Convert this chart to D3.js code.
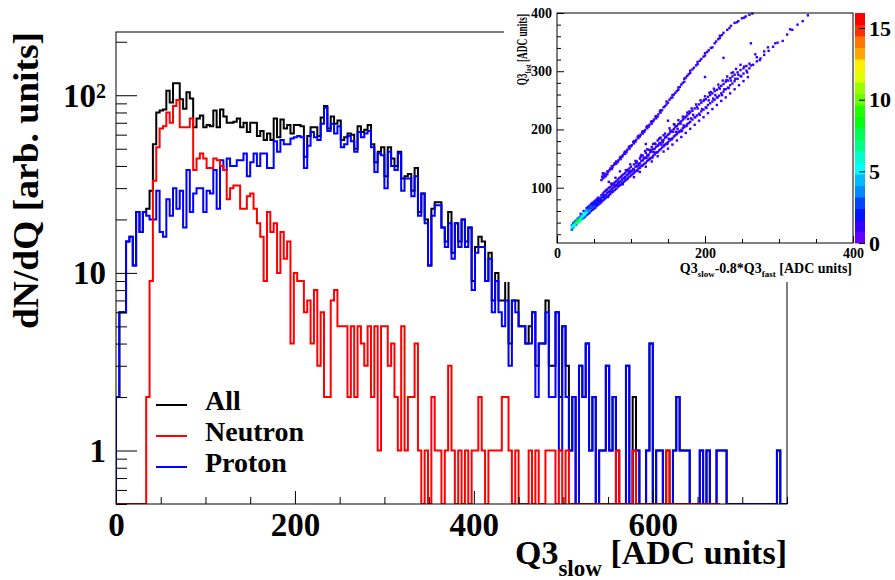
<!DOCTYPE html>
<html>
<head>
<meta charset="utf-8">
<script src="https://cdn.jsdelivr.net/npm/d3@7"></script>
<style>
body { margin: 0; background: #fff; }
svg text { font-family: "Liberation Serif", "Times New Roman", serif; font-weight: bold; fill: #000; }
</style>
</head>
<body>
<svg id="chart" width="895" height="580"></svg>
<script>
// ---- main histogram: bins of 3.75 ADC units, 0..750 ----
var binWidth = 3.75;

var protonCounts = [
  2, 6, 6, 15, 16, 11, 22, 17, 22, 21,
  20, 20, 29, 17, 16, 26, 21, 30, 23, 29,
  18, 38, 22, 28, 30, 30, 22, 29, 28, 38,
  23, 43, 38, 44, 40, 40, 43, 43, 47, 35,
  42, 47, 40, 47, 47, 39, 39, 55, 48, 56,
  53, 53, 57, 58, 59, 58, 39, 52, 62, 58,
  56, 69, 85, 63, 69, 61, 67, 51, 53, 59,
  55, 48, 62, 58, 61, 63, 51, 37, 47, 46,
  30, 48, 40, 38, 47, 29, 34, 34, 27, 35,
  21, 28, 19, 11, 21, 24, 24, 18, 14, 19,
  12, 19, 14, 20, 14, 18, 8, 13, 14, 14,
  9, 12, 6, 9, 6, 5, 7, 3, 7, 6,
  5, 5, 4, 4, 6, 2, 4, 4, 6, 2,
  2, 6, 1, 5, 2, 1, 2, 0, 3, 2,
  4, 1, 2, 0, 1, 1, 3, 1, 2, 0,
  0, 0, 3, 0, 1, 1, 0, 0, 1, 4,
  0, 1, 1, 0, 0, 0, 1, 2, 1, 1,
  1, 0, 0, 0, 1, 0, 1, 0, 0, 1,
  1, 1, 0, 0, 0, 0, 0, 0, 0, 0,
  0, 0, 0, 0, 0, 0, 0, 1, 0, 0
];

var neutronCounts = [
  0, 0, 0, 0, 0, 0, 0, 0, 0, 2,
  9, 33, 51, 65, 67, 80, 70, 87, 94, 66,
  66, 66, 74, 38, 44, 47, 44, 39, 39, 44,
  43, 40, 38, 26, 30, 31, 31, 23, 23, 27,
  28, 23, 19, 16, 9, 22, 17, 19, 10, 17,
  12, 15, 4, 10, 9, 9, 6, 7, 4, 8,
  3, 6, 2, 2, 7, 8, 5, 5, 5, 2,
  5, 2, 5, 4, 3, 5, 2, 5, 1, 5,
  5, 3, 4, 2, 1, 5, 1, 2, 2, 4,
  1, 0, 1, 0, 2, 1, 1, 0, 1, 3,
  1, 0, 1, 0, 1, 0, 1, 1, 2, 1,
  0, 1, 1, 1, 1, 2, 2, 1, 0, 1,
  0, 0, 0, 1, 0, 1, 0, 0, 1, 1,
  1, 0, 1, 0, 1, 0, 0, 0, 0, 0,
  0, 0, 0, 0, 0, 0, 0, 0, 0, 1,
  0, 0, 0, 0, 1, 0, 0, 0, 0, 0,
  0, 0, 0, 0, 1, 0, 0, 0, 0, 0,
  0, 0, 0, 0, 0, 0, 0, 0, 0, 0
];

var allCounts = [
  2, 6, 6, 15, 16, 11, 22, 17, 22, 23,
  29, 53, 80, 82, 83, 106, 91, 117, 117, 95,
  84, 104, 96, 66, 74, 77, 66, 68, 67, 82,
  66, 83, 76, 70, 70, 71, 74, 66, 70, 62,
  70, 70, 59, 63, 56, 61, 56, 74, 58, 73,
  65, 68, 61, 68, 68, 67, 45, 59, 66, 66,
  59, 75, 87, 65, 76, 69, 72, 56, 58, 61,
  60, 50, 67, 62, 64, 68, 53, 42, 48, 51,
  35, 51, 44, 40, 48, 34, 35, 36, 29, 39,
  22, 28, 20, 11, 23, 25, 25, 18, 15, 22,
  13, 19, 15, 20, 15, 18, 9, 14, 16, 15,
  9, 13, 7, 10, 7, 7, 9, 4, 7, 7,
  5, 5, 4, 5, 6, 3, 4, 4, 7, 3,
  3, 6, 2, 5, 3, 1, 2, 0, 3, 2,
  4, 1, 2, 0, 1, 1, 3, 1, 2, 1,
  0, 0, 3, 0, 2, 1, 0, 0, 1, 4,
  0, 1, 1, 0, 1, 0, 1, 2, 1, 1,
  1, 0, 0, 0, 1, 0, 1, 0, 0, 1,
  1, 1, 0, 0, 0, 0, 0, 0, 0, 0,
  0, 0, 0, 0, 0, 0, 0, 1, 0, 0
];

var seriesNames = ["All", "Neutron", "Proton"];
var seriesColors = ["#000000", "#ff0000", "#0000ff"];
var xTickValues = [0, 200, 400, 600];
var yTickValues = [1, 10, 100];

// ---- inset: 2D histogram cells [x, y, entries] ----
var coreCells = [
  [20,28,3],[20,32,5],[20,36,4],[22,31,4],[22,35,6],[22,39,3],
  [24,34,5],[24,38,7],[24,42,3],[26,36,4],[26,40,9],[26,44,4],
  [28,39,5],[28,43,8],[28,47,3],[30,41,6],[30,45,9],[30,49,4],
  [32,43,5],[32,47,7],[32,51,4],[32,55,1],[34,46,4],[34,50,6],[34,54,4],
  [36,48,3],[36,52,6],[36,56,5],[36,60,1],[38,50,3],[38,54,5],[38,58,4],
  [40,53,2],[40,57,5],[40,61,4],[40,65,1],[42,55,2],[42,59,4],[42,63,3],[42,67,1],
  [44,57,1],[44,61,4],[44,65,3],[44,69,1],[46,60,2],[46,64,3],[46,68,3],[46,72,1],
  [48,62,1],[48,66,3],[48,70,2],[48,74,1],[50,64,2],[50,68,3],[50,72,2],[50,76,1],
  [52,66,1],[52,70,2],[52,74,2],[52,78,1],[54,69,1],[54,73,2],[54,77,2],[54,81,1],
  [56,71,1],[56,75,2],[56,79,1],[56,83,1],[58,73,1],[58,77,2],[58,81,1],
  [60,75,1],[60,79,2],[60,83,1],[60,87,1]
];

var lowerBandCells = [
  [62,78,1],[62,84,2],[62,90,1],[64,80,2],[64,86,1],[64,93,1],[66,83,1],[66,88,2],[66,95,1],
  [68,85,1],[68,91,1],[68,97,1],[70,87,2],[70,93,1],[70,100,1],[72,89,1],[72,95,2],[72,101,1],
  [74,92,1],[74,98,1],[74,104,1],[76,94,2],[76,100,1],[76,107,1],[78,96,1],[78,102,1],[78,109,1],
  [80,98,1],[80,104,2],[80,111,1],[82,101,1],[82,107,1],[82,114,1],[84,103,1],[84,109,2],[84,116,1],
  [86,105,1],[86,111,1],[86,118,1],[88,108,2],[88,114,1],[88,121,1],[90,110,1],[90,116,1],[90,123,1],
  [92,112,1],[92,118,2],[92,125,1],[94,114,1],[94,121,1],[94,128,1],[96,117,1],[96,123,1],[96,131,1],
  [98,119,1],[98,125,2],[98,133,1],[100,121,1],[100,128,1],[100,136,1],[102,123,1],[102,130,1],
  [104,125,1],[104,132,1],[104,140,1],[106,128,1],[106,136,1],[108,130,1],[108,137,1],[108,145,1],
  [110,133,1],[110,141,1],[112,134,1],[112,142,1],[112,150,1],[114,137,1],[114,146,1],
  [116,139,1],[116,147,1],[116,155,1],[118,141,1],[118,151,1],[120,143,1],[120,152,1],[120,160,1],
  [122,146,1],[122,156,1],[124,148,1],[124,157,1],[124,165,1],[126,150,1],[126,161,1],
  [128,152,1],[128,162,1],[128,170,1],[130,155,1],[130,166,1],[132,157,1],[132,167,1],[132,176,1],
  [134,160,1],[134,170,1],[136,161,1],[136,172,1],[136,181,1],[138,164,1],[138,176,1],
  [140,166,1],[140,177,1],[140,186,1],[142,169,1],[142,181,1],[144,171,1],[144,182,1],[144,190,1],
  [146,174,1],[146,186,1],[148,176,1],[148,188,1],[150,178,1],[150,191,1],[152,181,1],[152,193,1],
  [154,183,1],[154,196,1],[156,185,1],[156,198,1],[158,188,1],[158,201,1],[160,190,1],[160,204,1],
  [162,192,1],[162,206,1],[164,195,1],[164,209,1],[166,197,1],[166,212,1],[168,199,1],[168,214,1],
  [170,202,1],[170,217,1],[172,204,1],[172,219,1],[174,206,1],[174,222,1],[176,209,1],[176,224,1],
  [178,211,1],[178,227,1],[180,213,1],[180,229,1],[183,217,1],[183,232,1],[186,221,1],[186,236,1],
  [189,224,1],[189,239,1],[192,227,1],[192,243,1],[195,231,1],[195,246,1],[198,234,1],[198,249,1],
  [201,238,1],[201,252,1],[204,242,1],[204,256,1],[207,245,1],[207,259,1],[210,248,1],[210,262,1],
  [213,251,1],[213,266,1],[216,255,1],[216,268,1],[219,258,1],[219,272,1],[222,262,1],[222,275,1],
  [225,265,1],[225,278,1],[228,269,1],[228,282,1],[231,272,1],[231,284,1],[234,276,1],[234,288,1],
  [237,279,1],[237,291,1],[240,283,1],[240,294,1],[244,287,1],[244,298,1],[248,292,1],[248,302,1],
  [252,296,1],[252,305,1],[256,301,1],[256,309,1],[260,305,1],[260,313,1],[265,311,1],
  [270,317,1],[270,324,1],[275,322,1],[280,328,1],[280,334,1],[286,335,1],[292,342,1],
  [298,349,1],[305,352,1],[311,363,1],[318,371,1],[325,380,1],[332,386,1],[339,396,1],
  [63,87,1],[65,82,1],[67,96,1],[69,84,1],[71,93,1],[73,107,1],[75,93,1],[77,105,1],[79,117,1],
  [81,105,1],[83,110,1],[85,105,1],[87,119,1],[89,106,1],[91,116,1],[93,130,1],[95,115,1],
  [97,128,1],[99,140,1],[101,128,1],[103,132,1],[105,128,1],[107,142,1],[109,129,1],[111,138,1],
  [113,153,1],[115,138,1],[117,150,1],[119,163,1],[121,151,1],[123,155,1],[125,150,1],[127,165,1],
  [129,152,1],[131,161,1],[133,175,1],[135,161,1],[137,173,1],[139,185,1],[141,174,1],[143,178,1],
  [145,173,1],[147,187,1],[149,175,1],[151,184,1],[153,198,1],[155,183,1],[157,196,1],[159,208,1],
  [161,196,1],[163,201,1],[165,196,1],[167,210,1],[169,197,1],[171,207,1],[173,221,1],[175,206,1],
  [177,218,1],[179,231,1],[181,219,1],[184,225,1],[187,221,1],[190,236,1],[193,225,1],[196,235,1],
  [199,251,1],[202,237,1],[205,250,1],[208,264,1],[211,253,1],[214,259,1],[217,255,1],[220,270,1],
  [223,259,1],[226,269,1],[229,285,1],[232,271,1],[235,284,1],[238,298,1],[241,287,1],[245,294,1],
  [249,291,1],[253,308,1],[257,298,1],[262,310,1],[268,329,1],[274,319,1],[285,341,1],[295,348,1],
  [315,372,1],
  [104,118,1],[106,146,1],[112,127,1],[114,156,1],[120,136,1],[122,166,1],[128,145,1],[130,175,1],
  [136,154,1],[138,184,1],[144,162,1],[146,193,1],[150,167,1],[152,202,1],[156,174,1],[158,209,1],
  [162,181,1],[164,216,1],[168,187,1],[170,222,1],[174,194,1],[176,229,1],[180,201,1],[182,236,1],
  [186,208,1],[188,243,1],[192,215,1],[194,250,1],[198,221,1],[200,257,1],[204,228,1],[206,263,1],
  [210,235,1],[212,270,1],[216,242,1],[218,277,1],[222,249,1],[224,284,1],[228,255,1],[230,291,1],
  [234,262,1],[236,297,1],[240,269,1],[242,304,1],[246,276,1],[248,311,1],[252,283,1],[258,290,1]
];

var upperBandCells = [
  [60,113,1],[61,119,1],[62,116,1],[63,122,1],[64,118,1],[65,124,1],[68,123,1],[68,128,1],
  [71,130,1],[74,132,1],[74,137,1],[77,139,1],[80,141,1],[80,145,1],[83,147,1],[86,149,1],
  [86,153,1],[89,156,1],[92,158,1],[92,162,1],[95,165,1],[98,167,1],[98,171,1],[101,173,1],
  [104,176,1],[104,180,1],[107,182,1],[110,185,1],[110,189,1],[113,191,1],[116,193,1],
  [116,197,1],[119,199,1],[122,202,1],[122,206,1],[125,208,1],[128,210,1],[128,214,1],
  [131,217,1],[134,219,1],[134,223,1],[137,226,1],[140,229,1],[140,233,1],[144,238,1],
  [148,243,1],[148,248,1],[152,251,1],[156,255,1],[156,259,1],[160,263,1],[164,268,1],
  [164,272,1],[168,277,1],[172,282,1],[172,287,1],[176,292,1],[180,297,1],[180,301,1],
  [185,306,1],[190,312,1],[190,316,1],[195,321,1],[200,327,1],[200,331,1],[205,336,1],
  [210,341,1],[215,351,1],[220,357,1],[220,361,1],[225,366,1],[230,371,1],[235,378,1],
  [240,383,1],[245,386,1],[250,391,1],[255,394,1],[260,397,1],[264,399,1],
  [70,110,1],[85,128,1],[120,175,1],[150,215,1],[200,290,1],[225,323,1],[262,348,1],
  [62,125,1],[66,120,1],[69,127,1],[72,133,1],[75,135,1],[78,142,1],[82,144,1],[85,151,1],
  [88,153,1],[91,160,1],[94,161,1],[97,169,1],[100,171,1],[103,178,1],[106,179,1],[109,187,1],
  [112,188,1],[115,195,1],[118,196,1],[121,204,1],[124,205,1],[127,213,1],[130,214,1],[133,222,1],
  [136,222,1],[139,231,1],[142,233,1],[146,240,1],[150,246,1],[154,254,1],[158,260,1],[162,266,1],
  [166,273,1],[170,280,1],[174,289,1],[178,295,1],[183,303,1],[188,310,1],[193,318,1],[198,325,1],
  [203,333,1],[208,340,1],[213,348,1],[218,355,1],[223,362,1],[233,374,1],[243,384,1],[253,392,1]
];

var insetXTicks = [0, 200, 400];
var insetYTicks = [100, 200, 300, 400];
var paletteTicks = [0, 5, 10, 15];

// ---------------------------------------------------------------
var svg = d3.select("#chart");

var x = d3.scaleLinear().domain([0, 750]).range([116, 787]);
var yMin = 0.5, yMax = 227;
var y = d3.scaleLog().domain([yMin, yMax]).range([504, 32]);

svg.append("defs").append("clipPath").attr("id", "frameClip")
  .append("rect")
    .attr("x", x(0)).attr("y", y(yMax))
    .attr("width", x(750) - x(0)).attr("height", y(yMin) - y(yMax));

function stepPoints(counts) {
  var pts = [[0, yMin]];
  counts.forEach(function(c, i) {
    var v = c > 0 ? c : yMin;
    pts.push([i * binWidth, v]);
    pts.push([(i + 1) * binWidth, v]);
  });
  pts.push([counts.length * binWidth, yMin]);
  return pts;
}

var line = d3.line()
  .x(function(d) { return x(d[0]); })
  .y(function(d) { return y(d[1]); });

// all first, then proton, neutron on top
var plot = svg.append("g").attr("clip-path", "url(#frameClip)");
[[allCounts, 0], [protonCounts, 2], [neutronCounts, 1]].forEach(function(s) {
  plot.append("path")
    .datum(stepPoints(s[0]))
    .attr("d", line)
    .attr("fill", "none")
    .attr("stroke", seriesColors[s[1]])
    .attr("stroke-width", 2);
});

// frame
svg.append("rect")
  .attr("x", x(0)).attr("y", y(yMax))
  .attr("width", x(750) - x(0)).attr("height", y(yMin) - y(yMax))
  .attr("fill", "none").attr("stroke", "#000").attr("stroke-width", 1);

// y axis (log), ticks pointing inward
var yMinor = [];
[0.1, 1, 10, 100].forEach(function(dec) {
  for (var m = 2; m <= 9; m++) {
    var v = dec * m;
    if (v >= yMin && v <= yMax) yMinor.push(v);
  }
});

var yAxis = svg.append("g")
  .attr("transform", "translate(" + x(0) + ",0)")
  .call(d3.axisLeft(y).tickValues(yTickValues).tickSize(-21).tickPadding(10)
    .tickFormat(function(d) { return d === 100 ? "10" : String(d); }));
svg.append("g")
  .attr("transform", "translate(" + x(0) + ",0)")
  .call(d3.axisLeft(y).tickValues(yMinor).tickSize(-11).tickFormat(""))
  .call(function(g) { g.select(".domain").remove(); });
yAxis.select(".domain").remove();
yAxis.selectAll("text")
  .style("font-size", "33px")
  .attr("dy", "0.33em");
yAxis.selectAll(".tick").filter(function(d) { return d === 100; })
  .select("text")
  .append("tspan").attr("dy", "-0.45em").style("font-size", "20px").text("2");

// x axis
var xMinor = d3.range(0, 751, 50).filter(function(v) { return v % 200 !== 0; });
var xAxis = svg.append("g")
  .attr("transform", "translate(0," + y(yMin) + ")")
  .call(d3.axisBottom(x).tickValues(xTickValues).tickSize(-13).tickPadding(9).tickFormat(d3.format("d")));
xAxis.select(".domain").remove();
xAxis.selectAll("text").style("font-size", "33px");
svg.append("g")
  .attr("transform", "translate(0," + y(yMin) + ")")
  .call(d3.axisBottom(x).tickValues(xMinor).tickSize(-7).tickFormat(""))
  .call(function(g) { g.select(".domain").remove(); });
svg.selectAll(".tick line").attr("stroke", "#000");

// axis titles
var xTitle = svg.append("text")
  .attr("x", x(750)).attr("y", 564)
  .attr("text-anchor", "end")
  .style("font-size", "34px");
xTitle.append("tspan").text("Q3");
xTitle.append("tspan").attr("dy", 12).style("font-size", "23px").text("slow");
xTitle.append("tspan").attr("dy", -12).text(" [ADC units]");

svg.append("text")
  .attr("transform", "translate(38," + y(yMax) + ") rotate(-90)")
  .attr("text-anchor", "end")
  .attr("textLength", 297)
  .attr("lengthAdjust", "spacingAndGlyphs")
  .style("font-size", "35px")
  .text("dN/dQ [arb. units]");

// legend
var legend = svg.append("g");
seriesNames.forEach(function(name, k) {
  var base = 410 + k * 31;
  legend.append("line")
    .attr("x1", 156).attr("x2", 187)
    .attr("y1", base - 5).attr("y2", base - 5)
    .attr("stroke", seriesColors[k]).attr("stroke-width", 2);
  legend.append("text")
    .attr("x", 205).attr("y", base)
    .style("font-size", "28px")
    .text(name);
});

// ---------------------------------------------------------------
// inset pad
var inset = svg.append("g");
inset.append("rect")
  .attr("x", 504).attr("y", 0).attr("width", 391).attr("height", 282)
  .attr("fill", "#fff");

var ix = d3.scaleLinear().domain([0, 400]).range([557, 853]);
var iy = d3.scaleLinear().domain([5, 400]).range([243, 13]);
var zMax = 16.05, nLevels = 20, nPretty = 50;
// ROOT "pretty" palette: 50 hues from violet to red, sampled by contour level
var levelColor = function(lev) {
  var idx = Math.floor((lev + 0.99) * nPretty / nLevels);
  return d3.hsl(280 - (idx + 1) * 280 / nPretty, 1, 0.5).formatHex();
};
var cellColor = function(n) {
  return levelColor(Math.min(nLevels - 1, Math.floor(n / zMax * nLevels)));
};

var cells = coreCells.concat(lowerBandCells, upperBandCells);
cells.sort(function(a, b) { return a[2] - b[2]; });
inset.selectAll("rect.cell")
  .data(cells)
  .enter().append("rect")
    .attr("class", "cell")
    .attr("x", function(d) { return ix(d[0]) - 1.2; })
    .attr("y", function(d) { return iy(d[1]) - 1.2; })
    .attr("width", 2.4).attr("height", 2.4)
    .attr("fill", function(d) { return cellColor(d[2]); });

inset.append("rect")
  .attr("x", 557).attr("y", 13).attr("width", 853 - 557).attr("height", 243 - 13)
  .attr("fill", "none").attr("stroke", "#000").attr("stroke-width", 1);

var ixAxis = inset.append("g").attr("transform", "translate(0,243)")
  .call(d3.axisBottom(ix).tickValues(insetXTicks).tickSize(-7).tickPadding(5));
ixAxis.select(".domain").remove();
ixAxis.selectAll("text").style("font-size", "14px");
inset.append("g").attr("transform", "translate(0,243)")
  .call(d3.axisBottom(ix).tickValues([50, 100, 150, 250, 300, 350]).tickSize(-4).tickFormat(""))
  .call(function(g) { g.select(".domain").remove(); });

var iyAxis = inset.append("g").attr("transform", "translate(557,0)")
  .call(d3.axisLeft(iy).tickValues(insetYTicks).tickSize(-7).tickPadding(5));
iyAxis.select(".domain").remove();
iyAxis.selectAll("text").style("font-size", "14px");
inset.append("g").attr("transform", "translate(557,0)")
  .call(d3.axisLeft(iy).tickValues(d3.range(20, 400, 20).filter(function(v) { return v % 100 !== 0; }))
    .tickSize(-4).tickFormat(""))
  .call(function(g) { g.select(".domain").remove(); });

var ixTitle = inset.append("text")
  .attr("x", 852).attr("y", 273).attr("text-anchor", "end")
  .style("font-size", "14px");
ixTitle.append("tspan").text("Q3");
ixTitle.append("tspan").attr("dy", 4).style("font-size", "9px").text("slow");
ixTitle.append("tspan").attr("dy", -4).text("-0.8*Q3");
ixTitle.append("tspan").attr("dy", 4).style("font-size", "9px").text("fast");
ixTitle.append("tspan").attr("dy", -4).text(" [ADC units]");

// y title of the inset is squeezed along its length in the original
var iyTitle = inset.append("text")
  .attr("transform", "translate(527,14) rotate(-90) scale(0.66,1)")
  .attr("text-anchor", "end")
  .style("font-size", "14px");
iyTitle.append("tspan").text("Q3");
iyTitle.append("tspan").attr("dy", 4).style("font-size", "9px").text("fast");
iyTitle.append("tspan").attr("dy", -4).text(" [ADC units]");

// colour palette axis
var iz = d3.scaleLinear().domain([0, zMax]).range([243, 13]);
inset.selectAll("rect.level")
  .data(d3.range(nLevels))
  .enter().append("rect")
    .attr("class", "level")
    .attr("x", 855).attr("width", 10)
    .attr("y", function(l) { return iz((l + 1) * zMax / nLevels); })
    .attr("height", function(l) { return iz(l * zMax / nLevels) - iz((l + 1) * zMax / nLevels) + 0.5; })
    .attr("fill", function(l) { return levelColor(l); });
var izAxis = inset.append("g").attr("transform", "translate(865,0)")
  .call(d3.axisRight(iz).tickValues(paletteTicks).tickSize(-6).tickPadding(4));
izAxis.select(".domain").remove();
izAxis.selectAll("text").style("font-size", "22px");
inset.selectAll(".tick line").attr("stroke", "#000");
</script>
</body>
</html>
